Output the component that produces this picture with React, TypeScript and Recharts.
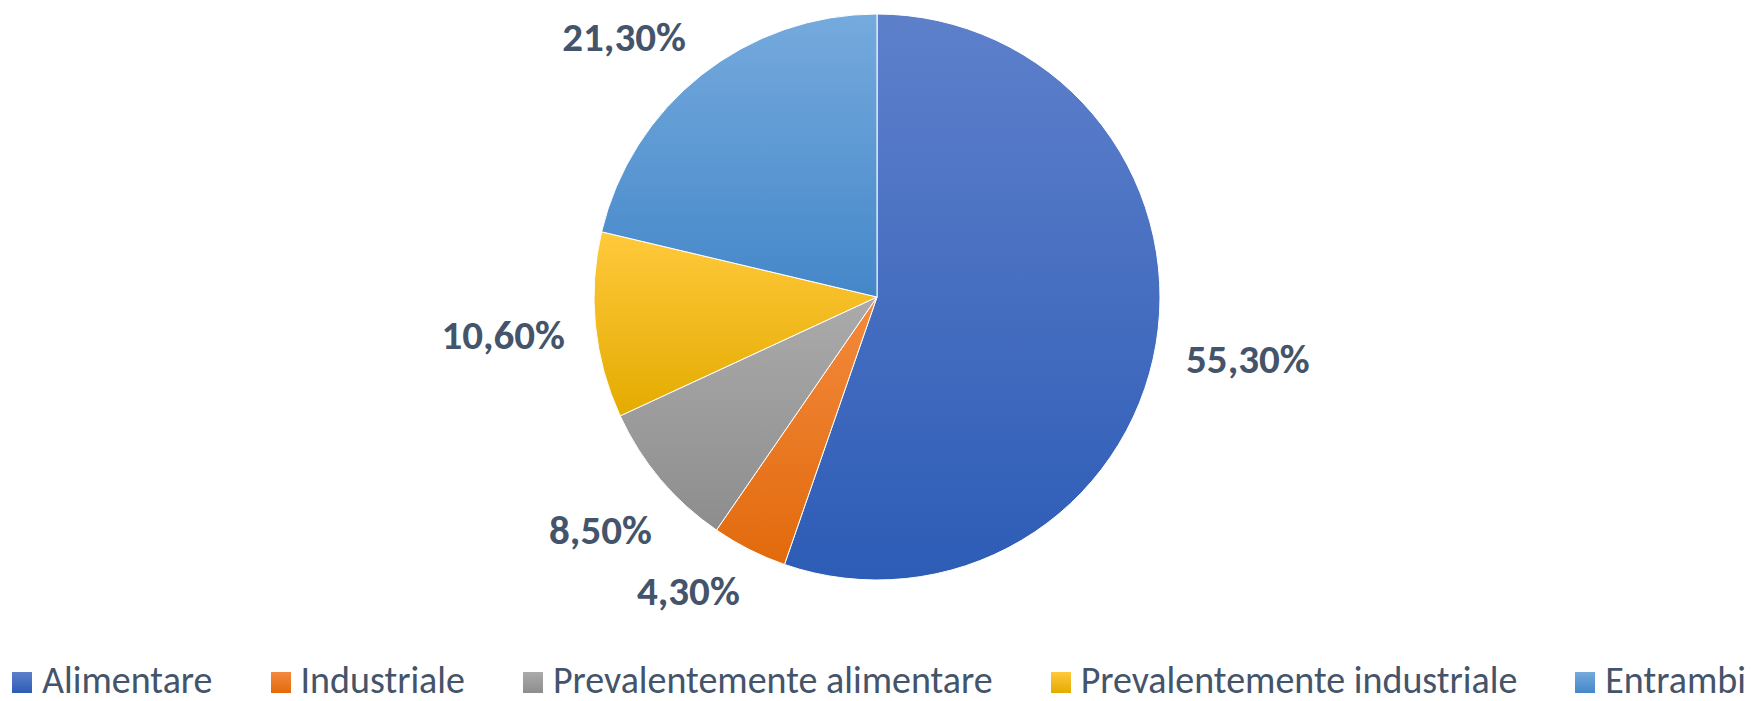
import { PieChart, Pie, Cell, Legend } from 'recharts';

const categories = [
  'Alimentare',
  'Industriale',
  'Prevalentemente alimentare',
  'Prevalentemente industriale',
  'Entrambi',
];
const shares = [55.3, 4.3, 8.5, 10.6, 21.3];
const labels = ['55,30%', '4,30%', '8,50%', '10,60%', '21,30%'];

// top / bottom colours of each slice gradient
const topColors = ['#5E80CB', '#F38A3E', '#ABABAB', '#FFC93C', '#75AADD'];
const bottomColors = ['#2D5CB6', '#E26A0C', '#8D8D8D', '#E4AB00', '#4487C9'];

const data = categories.map((name, i) => ({ name, value: shares[i], label: labels[i] }));

const TEXT = '#44546A';
const FONT = "Carlito, Calibri, Lato, 'Liberation Sans', sans-serif";
const RAD = Math.PI / 180;
const LABEL_TOP = 37;
const LABEL_BOTTOM = 591;

// eslint-disable-next-line @typescript-eslint/no-explicit-any
function renderLabel(props: any) {
  const { cx, cy, midAngle, outerRadius, index } = props;
  const text = labels[index];
  const fontSize = 41;
  const w = (text.length * fontSize * 0.5) / 2;
  const h = fontSize * 0.36;
  const cos = Math.cos(-midAngle * RAD);
  const sin = Math.sin(-midAngle * RAD);
  const d = outerRadius + 30 + Math.abs(cos) * w + Math.abs(sin) * h;
  let x = cx + d * cos;
  let y = cy + d * sin;
  // keep labels inside the plot area, sliding them round the pie
  if (y < LABEL_TOP || y > LABEL_BOTTOM) {
    y = Math.min(Math.max(y, LABEL_TOP), LABEL_BOTTOM);
    const dy = y - cy;
    x = cx + Math.sign(cos) * Math.sqrt(Math.max(d * d - dy * dy, 0));
  }
  return (
    <text
      x={x}
      y={y}
      textAnchor="middle"
      dominantBaseline="central"
      fill={TEXT}
      fontSize={fontSize}
      fontWeight={700}
      fontFamily={FONT}
    >
      {text}
    </text>
  );
}

function LegendContent() {
  return (
    <div
      style={{
        display: 'flex',
        justifyContent: 'center',
        gap: 58,
        fontFamily: FONT,
        fontSize: 38,
        color: TEXT,
        lineHeight: '42px',
      }}
    >
      {categories.map((c, i) => (
        <div key={c} style={{ display: 'flex', alignItems: 'center', gap: 10 }}>
          <span
            style={{
              display: 'inline-block',
              width: 20,
              height: 21,
              marginTop: 4,
              background: `linear-gradient(${topColors[i]}, ${bottomColors[i]})`,
            }}
          />
          <span>{c}</span>
        </div>
      ))}
    </div>
  );
}

export default function App() {
  return (
    <div style={{ position: 'absolute', left: 0, top: 0, width: 1758, height: 701, background: '#fff' }}>
      <PieChart width={1758} height={701} margin={{ top: 0, right: 0, bottom: 0, left: 0 }}>
        <defs>
          {categories.map((c, i) => (
            <linearGradient key={c} id={`grad${i}`} x1="0" y1="0" x2="0" y2="1">
              <stop offset="0%" stopColor={topColors[i]} />
              <stop offset="100%" stopColor={bottomColors[i]} />
            </linearGradient>
          ))}
        </defs>
        <Pie
          data={data}
          dataKey="value"
          nameKey="name"
          cx={877}
          cy={297}
          outerRadius={283}
          startAngle={90}
          endAngle={-270}
          stroke="#ffffff"
          strokeWidth={1}
          label={renderLabel}
          labelLine={false}
          isAnimationActive={false}
        >
          {data.map((d, i) => (
            <Cell key={d.name} fill={`url(#grad${i})`} />
          ))}
        </Pie>
        <Legend
          verticalAlign="bottom"
          content={() => <LegendContent />}
          wrapperStyle={{ bottom: 0, left: 0, width: 1758 }}
        />
      </PieChart>
    </div>
  );
}
